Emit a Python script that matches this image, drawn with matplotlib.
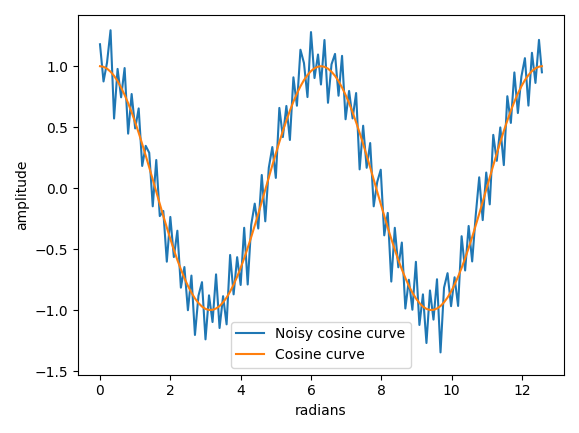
import numpy as np
import matplotlib
matplotlib.use("Agg")
import matplotlib.pyplot as plt

t_step = 0.1
cos_period = [1.000, 0.995, 0.980, 0.955, 0.921, 0.878, 0.825, 0.765, 0.697, 0.622,
              0.540, 0.454, 0.362, 0.267, 0.170, 0.071, -0.029, -0.129, -0.227, -0.323,
              -0.416, -0.505, -0.589, -0.666, -0.737, -0.801, -0.857, -0.904, -0.942, -0.971,
              -0.990, -0.999, -0.998, -0.987, -0.967, -0.936, -0.897, -0.848, -0.791, -0.726,
              -0.654, -0.575, -0.490, -0.401, -0.307, -0.211, -0.112, -0.012, 0.087, 0.187,
              0.284, 0.378, 0.469, 0.554, 0.635, 0.709, 0.776, 0.835, 0.886, 0.927,
              0.960, 0.983, 0.996]

# deviation of the noisy curve from the clean one, estimated per sample
noise = [0.18, -0.12, 0.05, 0.34, -0.35, 0.10, -0.08, 0.22, -0.25, 0.15,
         -0.05, 0.20, -0.18, 0.08, 0.12, -0.22, 0.26, -0.10, 0.04, -0.28,
         0.18, -0.06, 0.24, -0.15, 0.09, -0.20, 0.14, -0.30, 0.06, 0.20,
         -0.25, 0.12, -0.10, 0.28, -0.18, 0.05, -0.22, 0.30, -0.08, 0.16,
         -0.14, 0.25, -0.30, 0.10, 0.18, -0.12, 0.22, -0.26, 0.08, 0.15,
         -0.20, 0.28, -0.05, 0.12, -0.24, 0.20, -0.10, 0.30, 0.14, -0.18,
         0.32, -0.08, 0.10, -0.15,
         0.22, -0.28, 0.06, 0.18, -0.12, 0.26, -0.20, 0.10, -0.05, 0.24,
         -0.30, 0.15, -0.10, 0.20, -0.22, 0.08, 0.28, -0.16, 0.12, -0.35,
         0.18, -0.06, 0.22, -0.25, 0.05, -0.14, 0.30, -0.18, 0.10, -0.28,
         0.16, -0.08, 0.24, -0.38, 0.12, 0.20, -0.12, 0.06, -0.24, 0.26,
         -0.10, 0.18, -0.20, 0.08, 0.30, -0.15, 0.14, -0.22, 0.25, -0.06,
         0.12, -0.28, 0.20, -0.10, 0.24, -0.16, 0.08, 0.18, -0.25, 0.15,
         -0.12, 0.22, -0.05]

t = np.arange(len(cos_period)) * t_step
x = np.concatenate([t, t + 2 * np.pi, [4 * np.pi]])
y_clean = np.array(cos_period + cos_period + [1.0])
y_noisy = y_clean + np.array(noise)

fig, ax = plt.subplots(figsize=(5.79, 4.33), dpi=100)
ax.plot(x, y_noisy, label="Noisy cosine curve")
ax.plot(x, y_clean, label="Cosine curve")
ax.set_xlabel("radians")
ax.set_ylabel("amplitude")
ax.set_ylim(-1.53, 1.42)
ax.legend(loc="lower center")
plt.tight_layout()
fig.savefig("out.png")
